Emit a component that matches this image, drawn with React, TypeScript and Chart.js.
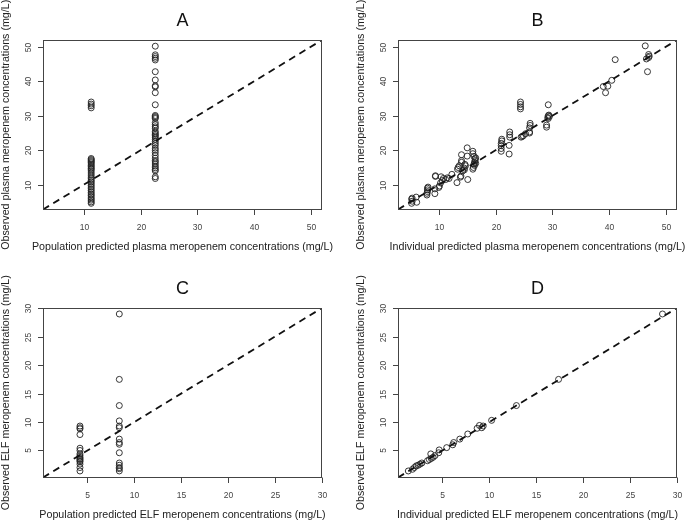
import React, { useEffect, useRef } from "react";
import { Chart, registerables } from "chart.js";
Chart.register(...registerables);

// ---------- axis settings ----------
const plasmaRange = [2.8, 52.0];
const elfRange = [0.25, 30.05];
const plasmaTicks = [10, 20, 30, 40, 50];
const elfTicks = [5, 10, 15, 20, 25, 30];

// ---------- text ----------
const panelTitles = ["A", "B", "C", "D"];
const xAxisLabels = [
  "Population predicted plasma meropenem concentrations (mg/L)",
  "Individual predicted plasma meropenem concentrations (mg/L)",
  "Population predicted ELF meropenem concentrations (mg/L)",
  "Individual predicted ELF meropenem concentrations (mg/L)",
];
const yAxisLabels = [
  "Observed plasma meropenem concentrations (mg/L)",
  "Observed plasma meropenem concentrations (mg/L)",
  "Observed ELF meropenem concentrations (mg/L)",
  "Observed ELF meropenem concentrations (mg/L)",
];

// ---------- data: panel A ----------
const popPredPlasmaA = [
  11.3, 11.3, 11.3, 11.3, 11.3, 11.3, 11.3, 11.3, 11.3, 11.3, 11.3, 11.3, 11.3, 11.3, 11.3, 11.3, 11.3,
  11.3, 11.3, 11.3, 11.3, 11.3, 11.3, 11.3, 11.3, 11.3, 11.3, 11.3, 11.3, 11.3, 11.3, 11.3, 11.3, 11.3,
  22.6, 22.6, 22.6, 22.6, 22.6, 22.6, 22.6, 22.6, 22.6, 22.6, 22.6, 22.6, 22.6, 22.6, 22.6, 22.6, 22.6,
  22.6, 22.6, 22.6, 22.6, 22.6, 22.6, 22.6, 22.6, 22.6, 22.6, 22.6, 22.6, 22.6, 22.6, 22.6, 22.6, 22.6,
  22.6, 22.6, 22.6, 22.6, 22.6, 22.6, 22.6, 22.6,
];
const obsPlasmaA = [
  34.0, 33.4, 32.9, 32.3, 17.6, 17.3, 17.0, 16.7, 16.4, 16.0, 15.6, 15.2, 14.8, 14.5, 14.0, 13.4, 12.8,
  12.2, 11.7, 11.2, 10.8, 10.3, 9.8, 9.3, 8.8, 8.3, 7.8, 7.3, 6.9, 6.4, 5.9, 5.5, 5.0, 4.6,
  50.2, 47.7, 47.2, 46.7, 46.2, 42.8, 40.4, 38.7, 38.4, 36.7, 33.2, 30.1, 29.8, 29.5, 29.2, 28.0, 27.4,
  26.8, 26.4, 25.5, 25.0, 24.6, 24.2, 23.8, 23.2, 22.6, 22.0, 21.4, 20.6, 20.0, 19.3, 18.5, 17.7, 17.0,
  16.6, 16.0, 15.4, 14.9, 14.4, 14.0, 12.3, 11.8, 11.3, 10.6,
];

// ---------- data: panel B ----------
const indPredPlasmaB = [
  5.2, 5.2, 5.3, 5.3, 6.0, 6.1,
  7.9, 7.9, 8.0, 8.0, 8.0, 8.1,
  9.3, 9.3, 9.4, 9.4,
  10.0, 10.1, 10.3, 10.4, 10.6, 10.8,
  11.2, 11.5, 11.8, 12.3,
  13.2, 13.3, 13.4, 13.6, 13.8, 13.9, 14.0, 14.0, 14.0, 14.2, 14.5, 14.5, 14.7, 14.6,
  15.0, 15.0, 15.1,
  16.0, 16.0, 16.0, 16.1, 16.2, 16.3, 16.4, 16.4, 16.5, 16.3, 16.5, 16.2,
  21.0, 21.0, 21.0, 21.0, 21.1, 21.1,
  22.4, 22.4, 22.5, 22.5, 22.5,
  24.4, 24.4, 24.4, 24.4, 24.5, 24.7, 24.9, 25.3,
  26.0, 26.0, 26.0, 26.1, 26.1,
  29.0, 29.0, 29.2, 29.3, 29.3, 29.4, 29.3, 29.5,
  39.0, 39.4, 39.8, 40.5, 41.1,
  46.4, 46.6, 46.8, 47.0, 47.1, 47.0,
];
const obsPlasmaB = [
  4.6, 5.8, 5.2, 6.1, 6.4, 4.9,
  7.0, 7.5, 8.0, 8.5, 9.0, 9.3,
  7.4, 8.8, 12.4, 12.6,
  9.2, 9.6, 10.5, 12.3, 11.2, 11.8,
  11.5, 12.0, 11.8, 13.0,
  10.6, 14.5, 15.0, 15.5, 12.2, 12.5, 16.5, 17.0, 18.7, 14.0, 14.3, 14.8, 15.5, 15.9,
  20.7, 18.3, 11.5,
  19.7, 19.0, 14.5, 15.0, 16.0, 16.5, 17.0, 17.5, 16.2, 15.6, 17.8, 18.2,
  19.7, 20.5, 21.3, 22.0, 22.7, 23.2,
  18.9, 21.4, 23.8, 24.5, 25.3,
  34.0, 33.3, 32.6, 32.0, 23.8, 24.0, 24.2, 24.8,
  25.0, 25.3, 26.5, 27.2, 27.8,
  26.7, 27.3, 29.5, 30.0, 29.2, 30.2, 33.2, 29.8,
  38.5, 36.7, 38.6, 40.3, 46.3,
  50.3, 46.5, 42.8, 47.8, 47.3, 46.9,
];

// ---------- data: panel C ----------
const popPredElfC = [
  4.2, 4.2, 4.2, 4.2, 4.2, 4.2, 4.2, 4.2, 4.2, 4.2, 4.2, 4.2, 4.2, 4.2, 4.2, 4.2,
  8.4, 8.4, 8.4, 8.4, 8.4, 8.4, 8.4, 8.4, 8.4, 8.4, 8.4, 8.4, 8.4, 8.4, 8.4,
];
const obsElfC = [
  9.3, 9.0, 8.8, 7.8, 5.4, 5.0, 4.4, 4.1, 3.8, 3.6, 3.4, 3.2, 3.0, 2.6, 2.0, 1.4,
  29.0, 17.5, 12.9, 10.2, 9.3, 9.0, 7.0, 6.4, 6.1, 4.6, 2.8, 2.4, 2.0, 1.8, 1.4,
];

// ---------- data: panel D ----------
const indPredElfD = [
  1.35, 1.8, 2.0, 2.2, 2.4, 2.6, 2.8, 3.4, 3.6, 3.75, 3.8, 4.0, 4.2, 4.6, 4.65, 5.45, 6.1, 6.2, 6.85,
  7.7, 8.7, 8.95, 9.2, 9.35, 10.25, 12.9, 17.4, 28.5,
];
const obsElfD = [
  1.4, 1.7, 2.0, 2.3, 2.4, 2.6, 2.8, 3.2, 3.4, 4.4, 3.6, 3.8, 4.1, 4.6, 5.1, 5.5, 6.0, 6.4, 7.0,
  7.9, 8.9, 9.4, 9.0, 9.3, 10.3, 12.9, 17.5, 29.0,
];

const FONT = '"Liberation Sans", Arial, Helvetica, sans-serif';

type PanelCfg = {
  title: string;
  xLabel: string;
  yLabel: string;
  xs: number[];
  ys: number[];
  range: number[];
  ticks: number[];
};

const panels: PanelCfg[] = [
  { title: panelTitles[0], xLabel: xAxisLabels[0], yLabel: yAxisLabels[0], xs: popPredPlasmaA, ys: obsPlasmaA, range: plasmaRange, ticks: plasmaTicks },
  { title: panelTitles[1], xLabel: xAxisLabels[1], yLabel: yAxisLabels[1], xs: indPredPlasmaB, ys: obsPlasmaB, range: plasmaRange, ticks: plasmaTicks },
  { title: panelTitles[2], xLabel: xAxisLabels[2], yLabel: yAxisLabels[2], xs: popPredElfC, ys: obsElfC, range: elfRange, ticks: elfTicks },
  { title: panelTitles[3], xLabel: xAxisLabels[3], yLabel: yAxisLabels[3], xs: indPredElfD, ys: obsElfD, range: elfRange, ticks: elfTicks },
];

const H = 254;
const PLOT_W = 279;
const PAD_LEFT = 43;

function makeFramePlugin(cfg: PanelCfg) {
  return {
    id: "rframe",
    afterDraw(chart: any) {
      const { ctx, chartArea: a, scales } = chart;
      const xs = scales.x;
      const ys = scales.y;
      ctx.save();
      // box
      ctx.strokeStyle = "#444";
      ctx.lineWidth = 1;
      const l = Math.round(a.left) + 0.5;
      const t = Math.round(a.top) + 0.5;
      const r = Math.round(a.right) - 0.5;
      const b = Math.round(a.bottom) - 0.5;
      ctx.strokeRect(l, t, r - l, b - t);
      // ticks
      ctx.fillStyle = "#444";
      ctx.font = `8.5px ${FONT}`;
      ctx.textAlign = "center";
      ctx.textBaseline = "middle";
      cfg.ticks.forEach((v) => {
        const px = Math.round(xs.getPixelForValue(v)) + 0.5;
        ctx.beginPath();
        ctx.moveTo(px, b);
        ctx.lineTo(px, b + 5.5);
        ctx.stroke();
        ctx.fillText(String(v), px, b + 18);
        const py = Math.round(ys.getPixelForValue(v)) + 0.5;
        ctx.beginPath();
        ctx.moveTo(l - 5.5, py);
        ctx.lineTo(l, py);
        ctx.stroke();
        ctx.save();
        ctx.translate(l - 14.5, py);
        ctx.rotate(-Math.PI / 2);
        ctx.fillText(String(v), 0, 0);
        ctx.restore();
      });
      // axis titles
      const cx = (a.left + a.right) / 2;
      const cy = (a.top + a.bottom) / 2;
      ctx.fillStyle = "#222";
      ctx.font = `10.7px ${FONT}`;
      ctx.fillText(cfg.xLabel, cx, 247);
      ctx.save();
      ctx.translate(6.5, cy);
      ctx.rotate(-Math.PI / 2);
      ctx.fillText(cfg.yLabel, 0, 0);
      ctx.restore();
      // main title
      ctx.fillStyle = "#111";
      ctx.font = `18px ${FONT}`;
      ctx.fillText(cfg.title, cx, 21);
      ctx.restore();
    },
  };
}

function Panel({ cfg, left, top, width }: { cfg: PanelCfg; left: number; top: number; width: number }) {
  const ref = useRef<HTMLCanvasElement>(null);
  useEffect(() => {
    if (!ref.current) return;
    const [lo, hi] = cfg.range;
    const chart = new Chart(ref.current, {
      type: "scatter",
      data: {
        datasets: [
          {
            type: "scatter",
            data: cfg.xs.map((x, i) => ({ x, y: cfg.ys[i] })),
            pointStyle: "circle",
            pointRadius: 3,
            pointBorderWidth: 0.9,
            pointBorderColor: "#222",
            pointBackgroundColor: "rgba(0,0,0,0)",
            order: 2,
          } as any,
          {
            type: "line",
            data: [
              { x: lo, y: lo },
              { x: hi, y: hi },
            ],
            borderColor: "#111",
            borderWidth: 1.8,
            borderDash: [7, 5],
            pointRadius: 0,
            showLine: true,
            fill: false,
            order: 1,
          } as any,
        ],
      },
      options: {
        responsive: false,
        animation: false,
        devicePixelRatio: 1,
        layout: { padding: { left: PAD_LEFT, right: width - PAD_LEFT - PLOT_W, top: 40, bottom: 44.5 } },
        scales: {
          x: { type: "linear", min: lo, max: hi, display: false },
          y: { type: "linear", min: lo, max: hi, display: false },
        },
        plugins: { legend: { display: false }, tooltip: { enabled: false }, title: { display: false } },
      },
      plugins: [makeFramePlugin(cfg)],
    });
    return () => chart.destroy();
  }, [cfg, width]);
  return (
    <canvas
      ref={ref}
      width={width}
      height={H}
      style={{ position: "absolute", left, top, width, height: H }}
    />
  );
}

export default function App() {
  const positions = [
    [0, 0, 355],
    [355, 0, 330],
    [0, 268, 355],
    [355, 268, 330],
  ];
  return (
    <div style={{ position: "fixed", left: 0, top: 0, width: 685, height: 522, background: "#fff", overflow: "hidden" }}>
      {panels.map((p, i) => (
        <Panel key={i} cfg={p} left={positions[i][0]} top={positions[i][1]} width={positions[i][2]} />
      ))}
    </div>
  );
}
